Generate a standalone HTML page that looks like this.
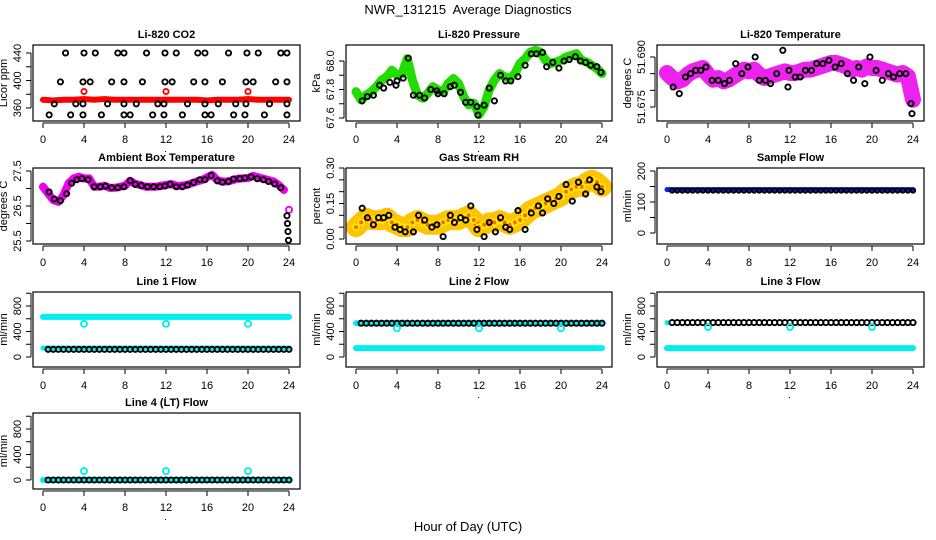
<!DOCTYPE html>
<html><head><meta charset="utf-8"><style>
html,body{margin:0;padding:0;background:#fff;}
svg{display:block;font-family:"Liberation Sans",sans-serif;}
</style></head><body>
<svg id="c" width="936" height="540" viewBox="0 0 936 540" xmlns="http://www.w3.org/2000/svg">
<rect width="936" height="540" fill="#fff"/>
<text x="468" y="14" text-anchor="middle" font-size="13">NWR_131215&#160; Average Diagnostics</text>
<text x="468" y="531" text-anchor="middle" font-size="13">Hour of Day (UTC)</text>
</svg>
<script>
const H=[0,0.5,1,1.5,2,2.5,3,3.5,4,4.5,5,5.5,6,6.5,7,7.5,8,8.5,9,9.5,10,10.5,11,11.5,12,12.5,13,13.5,14,14.5,15,15.5,16,16.5,17,17.5,18,18.5,19,19.5,20,20.5,21,21.5,22,22.5,23,23.5,24];
const HR=[0,1,2,3,4,5,6,7,8,9,10,11,12,13,14,15,16,17,18,19,20,21,22,23,24];
const xTicks=[0,4,8,12,16,20,24];
// CO2
const co2Red=[372,371,372,372,373,372,373,372,372,372,372,372,372,372,372,372,371,372,372,372,373,372,372,372,372];
const co2RedPtsH=[4,12,20];
const co2RedPtsV=[384,384,384];
const co2H440=[2.2,4,5.1,7.3,7.9,10.1,11.9,13,15.1,15.8,18.1,19.9,21,23.2,23.8];
const co2H398=[1.7,3.9,4.6,6.7,7.9,9.7,11.9,12.6,14.7,15.8,17.5,19.8,20.5,22.7,23.8];
const co2H366=[1.1,3.2,3.9,6.3,7.9,9.1,11.2,11.8,14.1,15.8,17.1,18.8,19.8,22.1,23.8];
const co2H350=[0.6,2.7,3.9,5.7,7.9,8.5,10.7,11.8,13.6,15.8,16.4,18.6,19.7,21.6,23.8];
// Pressure
const presGreen=[67.785,67.727,67.762,67.785,67.820,67.866,67.889,67.935,67.901,67.912,68.016,67.866,67.762,67.739,67.773,67.820,67.797,67.785,67.843,67.877,67.843,67.750,67.692,67.704,67.623,67.681,67.797,67.866,67.912,67.889,67.877,67.912,67.982,68.016,68.062,68.074,68.062,68.005,67.982,67.993,68.005,68.028,68.039,68.051,68.005,67.993,67.970,67.947,67.912];
const presBlackH=[0.6,1.1,1.7,2.3,2.7,3.3,3.9,4.0,4.6,5.1,5.6,6.2,6.7,7.3,7.9,8.0,8.6,9.2,9.6,10.2,10.7,11.2,11.8,11.9,12.5,13.0,13.5,14.1,14.6,15.1,15.8,16.5,17.1,17.6,18.2,18.6,19.2,19.8,20.3,20.8,21.4,21.9,22.4,22.9,23.5,23.9];
const presBlackV=[67.72,67.75,67.76,67.83,67.81,67.85,67.83,67.86,67.88,68.02,67.76,67.76,67.74,67.80,67.79,67.77,67.77,67.82,67.83,67.78,67.71,67.71,67.68,67.62,67.69,67.81,67.72,67.90,67.86,67.86,67.89,67.97,68.05,68.05,68.06,67.96,67.99,67.95,68.00,68.01,68.03,68.00,67.99,67.97,67.96,67.92];
// Li-820 temperature
const ltMag=[51.6852,51.6837,51.6827,51.6832,51.6847,51.6857,51.6862,51.6867,51.6847,51.6832,51.6837,51.6827,51.6832,51.6842,51.6852,51.6862,51.6857,51.6862,51.6847,51.6837,51.6842,51.6847,51.6852,51.6857,51.6852,51.6852,51.6857,51.6862,51.6862,51.6867,51.6872,51.6877,51.6882,51.6882,51.6877,51.6872,51.6862,51.6867,51.6862,51.6872,51.6867,51.6867,51.6862,51.6857,51.6852,51.6847,51.6852,51.6842,51.6772];
const ltBlackH=[0.6,1.2,1.8,2.3,2.8,3.3,3.8,4.4,5.0,5.6,6.1,6.7,7.3,7.9,8.6,9.0,9.6,10.1,10.7,11.3,11.8,11.9,12.5,13.0,13.5,14.1,14.6,15.2,15.8,16.4,17.0,17.6,18.2,18.7,19.3,19.8,20.4,21.0,21.6,22.1,22.7,23.3,23.8,23.9];
const ltBlackV=[51.681,51.679,51.684,51.685,51.686,51.686,51.687,51.683,51.683,51.682,51.683,51.688,51.685,51.687,51.690,51.683,51.683,51.682,51.685,51.692,51.681,51.686,51.684,51.684,51.686,51.686,51.688,51.688,51.689,51.687,51.688,51.685,51.683,51.687,51.682,51.690,51.686,51.683,51.685,51.684,51.685,51.685,51.676,51.673];
// Ambient
const ambMag=[27.05,26.86,26.67,26.62,26.81,27.15,27.29,27.34,27.29,27.29,27.05,27.05,27.08,27.02,27.02,27.05,27.08,27.22,27.13,27.10,27.05,27.05,27.05,27.08,27.10,27.13,27.08,27.08,27.10,27.15,27.20,27.24,27.32,27.39,27.24,27.20,27.20,27.24,27.28,27.29,27.30,27.36,27.32,27.28,27.24,27.20,27.10,26.96,26.39];
const ambBlackH=[0.6,1.1,1.7,2.3,2.8,3.3,3.8,4.4,5.0,5.6,6.1,6.7,7.3,7.9,8.5,9.0,9.6,10.2,10.8,11.4,11.9,12.4,13.0,13.6,14.1,14.7,15.3,15.8,16.4,17.0,17.5,18.1,18.6,19.2,19.7,20.3,20.9,21.5,22.0,22.6,23.2,23.8,23.85,23.9,23.95];
const ambBlackV=[26.9,26.7,26.65,26.85,27.15,27.25,27.28,27.25,27.05,27.05,27.07,27.02,27.02,27.05,27.22,27.12,27.08,27.05,27.05,27.05,27.07,27.12,27.05,27.05,27.10,27.17,27.25,27.25,27.37,27.22,27.18,27.20,27.27,27.28,27.30,27.33,27.28,27.25,27.20,27.13,27.02,26.22,26.0,25.77,25.52];
// RH
const rhBand=[0.05,0.07,0.09,0.08,0.08,0.08,0.09,0.07,0.06,0.05,0.05,0.07,0.08,0.07,0.06,0.06,0.06,0.07,0.08,0.08,0.08,0.09,0.10,0.08,0.05,0.06,0.07,0.07,0.08,0.07,0.06,0.07,0.08,0.10,0.12,0.13,0.14,0.15,0.16,0.17,0.18,0.20,0.21,0.22,0.22,0.24,0.25,0.24,0.22];
const rhBlackH=[0.6,1.1,1.7,2.2,2.7,3.2,3.8,4.3,4.8,5.6,6.1,6.7,7.4,7.9,8.5,9.2,9.6,10.2,10.7,11.2,11.8,12.5,13.0,13.6,14.1,14.6,15.0,15.8,16.5,17.1,17.8,18.2,18.7,19.3,19.8,20.5,21.1,21.7,22.4,22.8,23.5,23.9];
const rhBlackV=[0.13,0.09,0.06,0.09,0.09,0.10,0.05,0.04,0.03,0.03,0.10,0.08,0.05,0.06,0.01,0.10,0.07,0.09,0.08,0.14,0.04,0.01,0.07,0.03,0.09,0.05,0.04,0.12,0.04,0.11,0.14,0.11,0.17,0.15,0.18,0.23,0.16,0.24,0.19,0.25,0.22,0.20];
// Flows
const sampleBlue=[140,140,140,140,140,140,140,140,140,140,140,140,140,140,140,140,140,140,140,140,140,140,140,140,140];
const sampleBlack=[137,137,137,137,137,137,137,137,137,137,137,137,137,137,137,137,137,137,137,137,137,137,137,137,137];
const l1CyanHigh=[630,630,630,630,630,630,630,630,630,630,630,630,630,630,630,630,630,630,630,630,630,630,630,630,630];
const l1CyanLow=[140,140,140,140,140,140,140,140,140,140,140,140,140,140,140,140,140,140,140,140,140,140,140,140,140];
const l1Black=[120,120,120,120,120,120,120,120,120,120,120,120,120,120,120,120,120,120,120,120,120,120,120,120,120];
const calH=[4,12,20];
const l1Cal=[520,520,520];
const l2CyanHigh=[530,530,530,530,530,530,530,530,530,530,530,530,530,530,530,530,530,530,530,530,530,530,530,530,530];
const l2CyanLow=[140,140,140,140,140,140,140,140,140,140,140,140,140,140,140,140,140,140,140,140,140,140,140,140,140];
const l2Black=[530,530,530,530,530,530,530,530,530,530,530,530,530,530,530,530,530,530,530,530,530,530,530,530,530];
const l2Cal=[450,450,450];
const l3CyanLow=[140,140,140,140,140,140,140,140,140,140,140,140,140,140,140,140,140,140,140,140,140,140,140,140,140];
const l3Black=[540,540,540,540,540,540,540,540,540,540,540,540,540,540,540,540,540,540,540,540,540,540,540,540,540];
const l3Cal=[470,470,470];
const l4Cyan=[0,0,0,0,0,0,0,0,0,0,0,0,0,0,0,0,0,0,0,0,0,0,0,0,0];
const l4Black=[0,0,0,0,0,0,0,0,0,0,0,0,0,0,0,0,0,0,0,0,0,0,0,0,0];
const l4Cal=[140,140,140];

const svg=document.getElementById('c');
const NS='http://www.w3.org/2000/svg';
function mk(tag,attrs,parent){const e=document.createElementNS(NS,tag);for(const k in attrs)e.setAttribute(k,attrs[k]);(parent||svg).appendChild(e);return e;}

const COLS=[{b:[33,300],x:[43,289]},{b:[346,612],x:[356,602]},{b:[657,924],x:[667,913]}];
const ROWS=[[45,121],[168,244],[292,367],[413,489]];

function panel(name,col,row,title,ylab,ym,ticks,labels){
  const g=mk('g',{});
  
  
  const c=COLS[col],r=ROWS[row];
  const X=h=>c.x[0]+(c.x[1]-c.x[0])*h/24;
  const Y=v=>ym[1]+(ym[3]-ym[1])*(v-ym[0])/(ym[2]-ym[0]);
  const L=c.b[0],R=c.b[1],T=r[0],B=r[1];
  const t=mk('text',{x:(L+R)/2,y:T-7,'text-anchor':'middle','font-size':11,'font-weight':'bold'},g);t.textContent=title;
  
  
  const xa=mk('g',{},g);
  
  
  mk('line',{x1:X(0),x2:X(24),y1:B+2,y2:B+2,stroke:'#000'},xa);
  xTicks.forEach(h=>{mk('line',{x1:X(h),x2:X(h),y1:B+2,y2:B+7,stroke:'#000'},xa);
    const tt=mk('text',{x:X(h),y:B+22,'text-anchor':'middle','font-size':11},xa);tt.textContent=h;});
  mk('rect',{x:X(12)-1,y:B+30,width:1,height:1,fill:'#000'},xa);
  const ya=mk('g',{},g);
  
  
  mk('line',{x1:L-2,x2:L-2,y1:Y(ticks[0]),y2:Y(ticks[ticks.length-1]),stroke:'#000'},ya);
  ticks.forEach(v=>mk('line',{x1:L-7,x2:L-2,y1:Y(v),y2:Y(v),stroke:'#000'},ya));
  labels.forEach(l=>{const yy=Y(l[0]);const tt=mk('text',{x:L-12,y:yy,'text-anchor':'middle','font-size':11,transform:`rotate(-90 ${L-12} ${yy})`},ya);tt.textContent=l[1];});
  const yl=mk('text',{x:L-26,y:(T+B)/2,'text-anchor':'middle','font-size':11,transform:`rotate(-90 ${L-26} ${(T+B)/2})`},g);yl.textContent=ylab;
  
  
  const clipId='clip'+col+row;
  const cp=mk('clipPath',{id:clipId},g);mk('rect',{x:L,y:T,width:R-L,height:B-T},cp);
  const plot=mk('g',{'clip-path':`url(#${clipId})`},g);
  
  
  const box=mk('rect',{x:L,y:T,width:R-L,height:B-T,fill:'none',stroke:'#000','stroke-width':1.2},g);
  
  
  return {
    band(hs,vs,color,w,nm){const pl=mk('polyline',{points:hs.map((h,i)=>X(h)+','+Y(vs[i])).join(' '),fill:'none',stroke:color,'stroke-width':w,'stroke-linecap':'round','stroke-linejoin':'round'},plot);
      
      },
    pts(hs,vs,color,nm,r,sw){const pg=mk('g',{},plot);
      
      
      hs.forEach((h,i)=>mk('circle',{cx:X(h),cy:Y(vs[i]),r:r||2.6,fill:'none',stroke:color,'stroke-width':sw||1.9},pg));}
  };
}
function fill(n,v){const a=[];for(let i=0;i<n;i++)a.push(v);return a;}

let p=panel('co2',0,0,'Li-820 CO2','Licor ppm',[440,53,360,108],[360,380,400,420,440],[[360,'360'],[400,'400'],[440,'440']]);
p.band(HR,co2Red,'#f00',6,'co2-red-band');
p.pts(co2RedPtsH,co2RedPtsV,'#f00','co2-red-points');
p.pts(co2H440,fill(co2H440.length,440),'#000','co2-black-440');
p.pts(co2H398,fill(co2H398.length,398),'#000','co2-black-398');
p.pts(co2H366,fill(co2H366.length,366),'#000','co2-black-366');
p.pts(co2H350,fill(co2H350.length,350),'#000','co2-black-350');

p=panel('pressure',1,0,'Li-820 Pressure','kPa',[68.0,61,67.6,118],[67.6,67.7,67.8,67.9,68.0],[[67.6,'67.6'],[67.8,'67.8'],[68.0,'68.0']]);
p.band(H,presGreen,'#22dd00',9,'pressure-green-band');
p.pts(presBlackH,presBlackV,'#000','pressure-black-points');

p=panel('li820-temp',2,0,'Li-820 Temperature','degrees C',[51.690,57,51.675,107],[51.675,51.680,51.685,51.690],[[51.690,'51.690'],[51.675,'51.675']]);
p.band(H,ltMag,'#ee22ee',16,'li820-temp-magenta-band');
p.pts(H,ltMag,'#ee22ee','li820-temp-magenta-points',3);
p.pts(ltBlackH,ltBlackV,'#000','li820-temp-black-points');

p=panel('ambient-temp',0,1,'Ambient Box Temperature','degrees C',[27.5,171,25.5,241],[25.5,26.0,26.5,27.0,27.5],[[25.5,'25.5'],[26.5,'26.5'],[27.5,'27.5']]);
p.band(H.slice(0,48),ambMag.slice(0,48),'#ee00ee',8,'ambient-magenta-band');
p.pts(H,ambMag,'#ee00ee','ambient-magenta-points',3);
p.pts(ambBlackH,ambBlackV,'#000','ambient-black-points');

p=panel('rh',1,1,'Gas Stream RH','percent',[0.30,168,0.00,239],[0,0.05,0.10,0.15,0.20,0.25,0.30],[[0,'0.00'],[0.15,'0.15'],[0.30,'0.30']]);
p.band(H,rhBand,'#ffc400',20,'rh-orange-band');
p.band(H,rhBand,'#ff6600',6,'rh-red-core');
p.pts(H,rhBand,'#ffee00','rh-yellow-points',3);
p.pts(rhBlackH,rhBlackV,'#000','rh-black-points');

p=panel('sample-flow',2,1,'Sample Flow','ml/min',[200,171,0,233],[0,50,100,150,200],[[0,'0'],[100,'100'],[200,'200']]);
p.band(HR,sampleBlue,'#0022ee',5,'sample-flow-blue-band');
p.pts(H.slice(1),fill(48,sampleBlack[0]),'#000','sample-flow-black-points',2.2);

const fT=[0,200,400,600,800,1000],fL=[[0,'0'],[400,'400'],[800,'800']];
p=panel('line1-flow',0,2,'Line 1 Flow','ml/min',[800,306,0,357],fT,fL);
p.band(HR,l1CyanHigh,'#00eeee',6,'line1-cyan-high');
p.band(HR,l1CyanLow,'#00eeee',5,'line1-cyan-low');
p.pts(H.slice(1),fill(48,l1Black[0]),'#000','line1-black-points');
p.pts(calH,l1Cal,'#00eeee','line1-cal-points',3);

p=panel('line2-flow',1,2,'Line 2 Flow','ml/min',[800,306,0,357],fT,fL);
p.band(HR,l2CyanHigh,'#00eeee',6,'line2-cyan-high');
p.band(HR,l2CyanLow,'#00eeee',6,'line2-cyan-low');
p.pts(H.slice(1),fill(48,l2Black[0]),'#000','line2-black-points');
p.pts(calH,l2Cal,'#00eeee','line2-cal-points',3);

p=panel('line3-flow',2,2,'Line 3 Flow','ml/min',[800,306,0,357],fT,fL);
p.band(HR,l3CyanLow,'#00eeee',6,'line3-cyan-low');
p.band(HR.slice(0,1).concat([0.1]),[540,540],'#00eeee',5,'line3-cyan-start');
p.pts(H.slice(1),fill(48,l3Black[0]),'#000','line3-black-points');
p.pts(calH,l3Cal,'#00eeee','line3-cal-points',3);

p=panel('line4-flow',0,3,'Line 4 (LT) Flow','ml/min',[800,429,0,480],fT,fL);
p.band(HR,l4Cyan,'#00eeee',6,'line4-cyan-band');
p.pts(H.slice(1),fill(48,l4Black[0]),'#000','line4-black-points');
p.pts(calH,l4Cal,'#00eeee','line4-cal-points',3);
</script>
</body></html>
